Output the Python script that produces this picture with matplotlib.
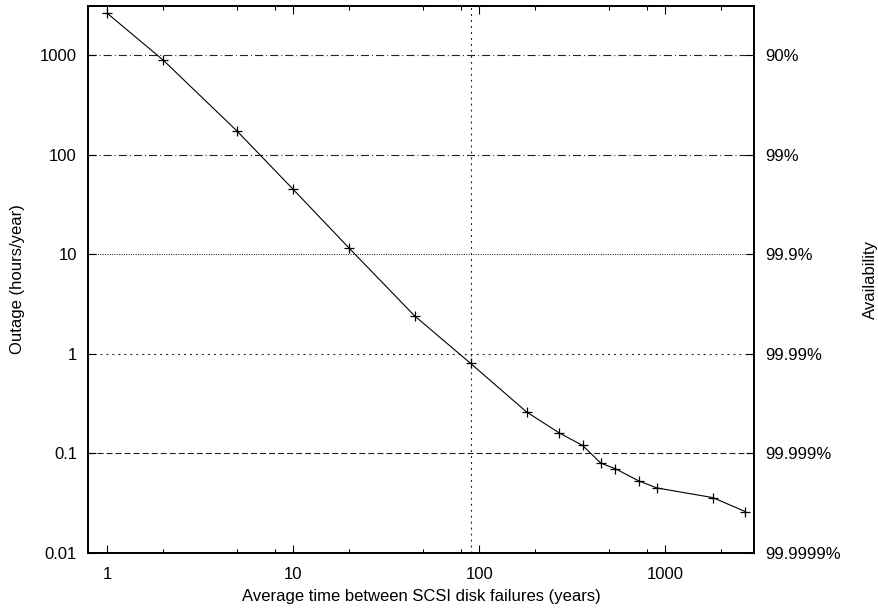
import numpy as np
import matplotlib
matplotlib.use('Agg')
import matplotlib.pyplot as plt
from matplotlib.ticker import FixedLocator, NullFormatter, NullLocator

matplotlib.rcParams.update({'font.size': 12, 'font.family': 'Liberation Sans',
                            'lines.scale_dashes': False})

### Data ###
mtbf_years = [1, 2, 5, 10, 20, 45, 90, 180, 270, 360, 450, 540, 720, 900, 1800, 2700]
outage_hours = [2630, 890, 172, 44.8, 11.5, 2.4, 0.8, 0.26, 0.16, 0.12, 0.08, 0.07,
                0.053, 0.045, 0.036, 0.026]

x_ticks = [1, 10, 100, 1000]
x_tick_labels = ['1', '10', '100', '1000']
x_minor = [2, 5, 8, 20, 50, 80, 200, 500, 800, 2000]
y_ticks = [0.01, 0.1, 1, 10, 100, 1000]
y_tick_labels = ['0.01', '0.1', '1', '10', '100', '1000']
avail_labels = ['99.9999%', '99.999%', '99.99%', '99.9%', '99%', '90%']
vline_x = 90

# grid style per horizontal level (gnuplot-like)
grid_styles = {1000: (0, (5.8, 2.2, 0.7, 2.2)),
               100: (0, (5.8, 2.2, 0.7, 2.2)),
               10: (0, (0.7, 1.0)),
               1: (0, (1.4, 2.9)),
               0.1: (0, (4.3, 2.2))}

### Plot ###
fig = plt.figure(figsize=(8.79, 6.13), dpi=100)
ax = fig.add_axes([0.1001, 0.0979, 0.7577, 0.8923])
ax.set_xscale('log')
ax.set_yscale('log')
ax.set_xlim(0.79, 3000)
ax.set_ylim(0.01, 3100)

for lvl, ls in grid_styles.items():
    ax.axhline(lvl, color='#222222', lw=0.8, linestyle=ls, zorder=1)
ax.axvline(vline_x, color='#222222', lw=0.8, linestyle=(0, (1.4, 2.9)), zorder=1)

ax.plot(mtbf_years, outage_hours, 'k-', lw=0.8, marker='+', markersize=7,
        markeredgewidth=0.9, zorder=3)

ax.xaxis.set_major_locator(FixedLocator(x_ticks))
ax.set_xticklabels(x_tick_labels)
ax.xaxis.set_minor_locator(FixedLocator(x_minor))
ax.xaxis.set_minor_formatter(NullFormatter())
ax.yaxis.set_major_locator(FixedLocator(y_ticks))
ax.set_yticklabels(y_tick_labels)
ax.yaxis.set_minor_locator(NullLocator())
ax.tick_params(which='major', direction='in', length=6, width=0.8, top=True,
               right=False, labelsize=12, pad=8)
ax.tick_params(which='minor', direction='in', length=3, width=0.8, top=True)
ax.tick_params(axis='x', which='major', pad=10)

for s in ax.spines.values():
    s.set_linewidth(1.3)

ax.set_xlabel('Average time between SCSI disk failures (years)')
ax.xaxis.set_label_coords(0.5, -0.065)
ax.set_ylabel('Outage (hours/year)')
ax.yaxis.set_label_coords(-0.095, 0.5)

ax2 = ax.twinx()
ax2.set_yscale('log')
ax2.set_ylim(ax.get_ylim())
ax2.yaxis.set_major_locator(FixedLocator(y_ticks))
ax2.set_yticklabels(avail_labels)
ax2.yaxis.set_minor_locator(NullLocator())
ax2.tick_params(which='major', direction='in', length=6, width=0.8, labelsize=12, pad=8)
ax2.set_ylabel('Availability')
ax2.yaxis.set_label_coords(1.163, 0.5)
for s in ax2.spines.values():
    s.set_linewidth(1.3)

plt.savefig('out.png', dpi=100)
